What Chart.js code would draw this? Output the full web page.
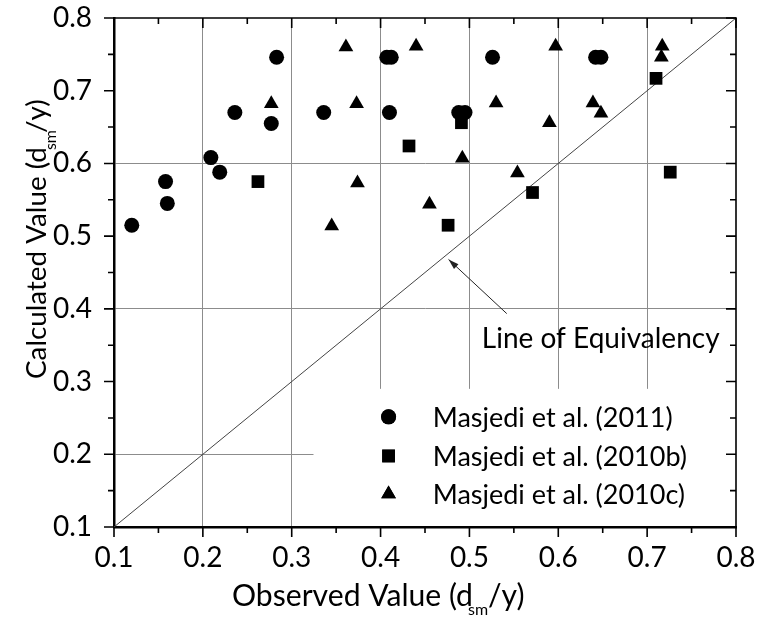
<!DOCTYPE html>
<html lang="en">
<head>
    <meta charset="UTF-8">
    <title>Calculated vs Observed</title>
    <style>
        body { margin: 0; background: #fff; }
        #wrap { width: 757px; height: 617px; }
    </style>
</head>
<body>
    <div id="wrap"><canvas id="chart"></canvas></div>

    <script src="https://cdn.jsdelivr.net/npm/chart.js"></script>
    <script>
        // data
        const x2011 = [0.120, 0.158, 0.160, 0.209, 0.219, 0.236, 0.277, 0.283, 0.336, 0.407, 0.412, 0.410, 0.488, 0.495, 0.526, 0.642, 0.648];
        const y2011 = [0.515, 0.575, 0.545, 0.608, 0.588, 0.670, 0.655, 0.746, 0.670, 0.746, 0.746, 0.670, 0.670, 0.670, 0.746, 0.746, 0.746];

        const x2010b = [0.262, 0.432, 0.476, 0.491, 0.571, 0.710, 0.726];
        const y2010b = [0.575, 0.624, 0.515, 0.656, 0.560, 0.717, 0.588];

        const x2010c = [0.277, 0.345, 0.361, 0.373, 0.374, 0.440, 0.455, 0.492, 0.530, 0.554, 0.590, 0.597, 0.639, 0.648, 0.716, 0.717];
        const y2010c = [0.682, 0.514, 0.760, 0.682, 0.573, 0.761, 0.544, 0.607, 0.683, 0.587, 0.656, 0.761, 0.683, 0.669, 0.746, 0.761];

        const eqX = [0.1, 0.8];
        const eqY = [0.1, 0.8];

        const seriesNames = ['Masjedi et al. (2011)', 'Masjedi et al. (2010b)', 'Masjedi et al. (2010c)'];
        const seriesStyles = ['circle', 'rect', 'triangle'];
        const seriesRadius = [7.5, 9, 8.5];

        const FONT = 'Lato, "Open Sans", sans-serif';

        function pts(xs, ys) {
            return xs.map((x, i) => ({ x: x, y: ys[i] }));
        }

        function isTenth(v) {
            return Math.abs(v * 10 - Math.round(v * 10)) < 1e-6;
        }

        // grid lines only where the original had them
        function xGridColor(ctx) {
            const v = ctx.tick ? ctx.tick.value : 0;
            return (isTenth(v) && v > 0.15 && v < 0.75) ? '#8c8c8c' : 'rgba(0,0,0,0)';
        }
        function yGridColor(ctx) {
            const v = ctx.tick ? ctx.tick.value : 0;
            const k = Math.round(v * 10);
            return (isTenth(v) && (k === 2 || k === 4 || k === 6)) ? '#8c8c8c' : 'rgba(0,0,0,0)';
        }

        const framePlugin = {
            id: 'frame',
            beforeDatasetsDraw(chart) {
                // white legend panel hides grid lines under it
                const ctx = chart.ctx, xs = chart.scales.x, ys = chart.scales.y;
                const a = chart.chartArea;
                const left = xs.getPixelForValue(0.3245);
                const top = ys.getPixelForValue(0.29);
                ctx.save();
                ctx.fillStyle = '#fff';
                ctx.fillRect(left, top, a.right - left - 1, a.bottom - top - 1);
                ctx.restore();
            },
            afterDatasetsDraw(chart) {
                const ctx = chart.ctx, xs = chart.scales.x, ys = chart.scales.y;
                ctx.save();

                // legend
                ctx.font = '27px ' + FONT;
                ctx.textBaseline = 'middle';
                ctx.textAlign = 'left';
                ctx.fillStyle = '#000';
                const ly = [0.2515, 0.1977, 0.1453];
                seriesNames.forEach((name, i) => {
                    const px = xs.getPixelForValue(0.409);
                    const py = ys.getPixelForValue(ly[i]);
                    Chart.helpers.drawPoint(ctx, { pointStyle: seriesStyles[i], radius: seriesRadius[i], rotation: 0, borderWidth: 0 }, px, py);
                    ctx.fill();
                    ctx.fillText(name, xs.getPixelForValue(0.4587), py + 1);
                });

                // equivalency label and arrow
                ctx.font = '28px ' + FONT;
                ctx.fillText('Line of Equivalency', xs.getPixelForValue(0.514), ys.getPixelForValue(0.36) + 1);
                const x0 = xs.getPixelForValue(0.542), y0 = ys.getPixelForValue(0.3935);
                const x1 = xs.getPixelForValue(0.4765), y1 = ys.getPixelForValue(0.468);
                ctx.strokeStyle = '#222';
                ctx.lineWidth = 1;
                ctx.beginPath();
                ctx.moveTo(x0, y0);
                ctx.lineTo(x1, y1);
                ctx.stroke();
                const ang = Math.atan2(y1 - y0, x1 - x0);
                ctx.beginPath();
                ctx.moveTo(x1, y1);
                ctx.lineTo(x1 - 11 * Math.cos(ang - 0.3), y1 - 11 * Math.sin(ang - 0.3));
                ctx.lineTo(x1 - 11 * Math.cos(ang + 0.3), y1 - 11 * Math.sin(ang + 0.3));
                ctx.closePath();
                ctx.fillStyle = '#222';
                ctx.fill();
                ctx.restore();
            },
            afterDraw(chart) {
                const ctx = chart.ctx, xs = chart.scales.x, ys = chart.scales.y;
                const a = chart.chartArea;
                ctx.save();
                ctx.strokeStyle = '#000';

                // top and right frame
                ctx.lineWidth = 1.6;
                ctx.beginPath();
                ctx.moveTo(a.left, a.top);
                ctx.lineTo(a.right, a.top);
                ctx.lineTo(a.right, a.bottom);
                ctx.stroke();

                // tick marks: out on left/bottom, in on top/right
                for (let k = 2; k <= 16; k++) {
                    const v = k * 0.05;
                    const len = (k % 2 === 0) ? 10 : 6;
                    const px = xs.getPixelForValue(v);
                    const py = ys.getPixelForValue(v);
                    ctx.beginPath();
                    ctx.moveTo(px, a.bottom); ctx.lineTo(px, a.bottom + len);
                    ctx.moveTo(px, a.top); ctx.lineTo(px, a.top + len);
                    ctx.moveTo(a.left, py); ctx.lineTo(a.left - len, py);
                    ctx.moveTo(a.right, py); ctx.lineTo(a.right - len, py);
                    ctx.stroke();
                }

                // axis titles with subscript, main part sized to the original width
                ctx.fillStyle = '#000';
                ctx.textBaseline = 'middle';
                ctx.textAlign = 'left';
                const drawTitle = (start, end, targetW, subDx, endDx) => {
                    ctx.font = '30px ' + FONT;
                    const size = 30 * targetW / ctx.measureText(start).width;
                    ctx.font = size + 'px ' + FONT;
                    const w = ctx.measureText(start).width;
                    ctx.fillText(start, 0, 0);
                    ctx.font = '16px ' + FONT;
                    ctx.fillText('sm', w + subDx, 14);
                    ctx.font = size + 'px ' + FONT;
                    ctx.fillText(end, w + endDx, 0);
                };
                ctx.save();
                ctx.translate(232, 596);
                drawTitle('Observed Value (d', '/y)', 241, -5, 15);
                ctx.restore();

                ctx.save();
                ctx.translate(37, 379);
                ctx.rotate(-Math.PI / 2);
                drawTitle('Calculated Value (d', '/y)', 232, -3, 14);
                ctx.restore();

                ctx.restore();
            }
        };

        const tickCb = v => isTenth(v) ? Number(v).toFixed(1) : '';

        new Chart(document.getElementById('chart'), {
            type: 'scatter',
            data: {
                datasets: [
                    {
                        type: 'line',
                        label: 'Line of Equivalency',
                        data: pts(eqX, eqY),
                        borderColor: '#444',
                        borderWidth: 1,
                        pointRadius: 0,
                        fill: false,
                        order: 4
                    },
                    {
                        label: seriesNames[0],
                        data: pts(x2011, y2011),
                        pointStyle: seriesStyles[0],
                        pointRadius: seriesRadius[0],
                        backgroundColor: '#000',
                        borderWidth: 0
                    },
                    {
                        label: seriesNames[1],
                        data: pts(x2010b, y2010b),
                        pointStyle: seriesStyles[1],
                        pointRadius: seriesRadius[1],
                        backgroundColor: '#000',
                        borderWidth: 0
                    },
                    {
                        label: seriesNames[2],
                        data: pts(x2010c, y2010c),
                        pointStyle: seriesStyles[2],
                        pointRadius: seriesRadius[2],
                        backgroundColor: '#000',
                        borderWidth: 0
                    }
                ]
            },
            options: {
                responsive: true,
                maintainAspectRatio: false,
                animation: false,
                layout: { padding: { left: 0, top: 18, right: 21, bottom: 0 } },
                plugins: {
                    legend: { display: false },
                    tooltip: { enabled: false }
                },
                scales: {
                    x: {
                        type: 'linear',
                        min: 0.1,
                        max: 0.8,
                        afterFit: s => { s.height = 90; s.paddingLeft = 0; s.paddingRight = 0; },
                        border: { display: true, color: '#000', width: 2.5 },
                        grid: { color: xGridColor, lineWidth: 1, drawTicks: false },
                        ticks: { stepSize: 0.05, autoSkip: false, maxRotation: 0, padding: 14, color: '#000', font: { family: FONT, size: 28 }, callback: tickCb },
                        title: { display: false }
                    },
                    y: {
                        type: 'linear',
                        min: 0.1,
                        max: 0.8,
                        afterFit: s => { s.width = 114; s.paddingTop = 0; s.paddingBottom = 0; },
                        border: { display: true, color: '#000', width: 2.5 },
                        grid: { color: yGridColor, lineWidth: 1, drawTicks: false },
                        ticks: { stepSize: 0.05, autoSkip: false, padding: 22, color: '#000', font: { family: FONT, size: 28 }, callback: tickCb },
                        title: { display: false }
                    }
                }
            },
            plugins: [framePlugin]
        });
    </script>
</body>
</html>
